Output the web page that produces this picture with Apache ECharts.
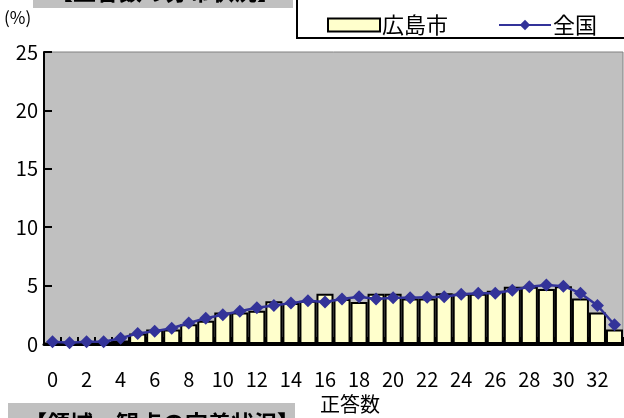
<!DOCTYPE html>
<html><head><meta charset="utf-8">
<script src="https://cdn.jsdelivr.net/npm/echarts@6/dist/echarts.min.js"></script>
<style>html,body{margin:0;padding:0;background:#fff}#c{width:624px;height:418px}</style>
</head><body><div id="c"></div>
<script>
const categories = ['0','1','2','3','4','5','6','7','8','9','10','11','12','13','14','15','16','17','18','19','20','21','22','23','24','25','26','27','28','29','30','31','32','33'];
const hiroshima = [0.1,0.1,0.1,0.2,0.3,0.9,1.25,1.25,1.7,2.0,2.7,2.7,2.85,3.65,3.5,3.7,4.3,3.85,3.6,4.3,4.3,3.9,3.9,4.35,4.3,4.3,4.55,4.9,4.9,4.7,4.95,3.9,2.7,1.25];
const national = [0.2,0.1,0.2,0.2,0.5,0.9,1.1,1.35,1.8,2.2,2.5,2.8,3.1,3.3,3.5,3.7,3.6,3.85,4.05,3.85,3.95,3.95,4.0,4.05,4.25,4.35,4.35,4.6,4.9,5.05,4.95,4.35,3.3,1.65];
const yTicks = [0,5,10,15,20,25];
const seriesNames = ['広島市','全国'];

const FONT = '"Noto Sans CJK JP", sans-serif';
const chart = echarts.init(document.getElementById('c'), null, {renderer:'canvas'});
chart.setOption({
  animation:false,
  textStyle:{fontFamily:FONT},
  grid:{left:44,right:1,top:52,bottom:74,show:true,backgroundColor:'#C0C0C0',borderColor:'#808080',borderWidth:1},
  legend:{
    left:322, top:9, itemWidth:52, itemHeight:13, itemGap:50,
    textStyle:{fontSize:22,color:'#000',fontFamily:FONT,padding:[0,0,0,-3]},
    data:[
      {name:seriesNames[0], icon:'rect'},
      {name:seriesNames[1]}
    ]
  },
  xAxis:{
    type:'category', data:categories,
    axisLine:{lineStyle:{color:'#000',width:3}},
    axisTick:{show:true,inside:true,length:7,interval:0,alignWithLabel:false,lineStyle:{color:'#000',width:2}},
    axisLabel:{interval:1,fontSize:20,color:'#000',margin:25,fontFamily:FONT},
    splitLine:{show:false}
  },
  yAxis:{
    type:'value', min:yTicks[0], max:yTicks[yTicks.length-1], interval:5,
    axisLine:{show:true,lineStyle:{color:'#000',width:2}},
    axisTick:{show:true,inside:true,length:8,lineStyle:{color:'#000',width:2}},
    axisLabel:{fontSize:20,color:'#000',margin:6,fontFamily:FONT},
    splitLine:{show:false}
  },
  graphic:[
    {type:'rect',z:-10,shape:{x:33,y:-2,width:260,height:10},style:{fill:'#C0C0C0'}},
    {type:'text',z:-9,left:50,top:-20,style:{text:'【正答数の分布状況】',font:'bold 23px '+FONT,fill:'#000'}},
    {type:'rect',z:-10,shape:{x:297,y:-5,width:340,height:43},style:{fill:'#fff',stroke:'#000',lineWidth:2}},
    {type:'text',left:4,top:9,style:{text:'(%)',font:'17px '+FONT,fill:'#000'}},
    {type:'text',left:320,top:394,style:{text:'正答数',font:'20px '+FONT,fill:'#000'}},
    {type:'rect',z:-10,shape:{x:8,y:403,width:287,height:20},style:{fill:'#C0C0C0'}},
    {type:'text',z:-9,left:24,top:412,style:{text:'【領域・観点の定着状況】',font:'bold 23px '+FONT,fill:'#000'}}
  ],
  series:[
    {name:seriesNames[0], type:'bar', data:hiroshima, barCategoryGap:'0%',
     itemStyle:{color:'#FFFFCC',borderColor:'#000',borderWidth:2}},
    {name:seriesNames[1], type:'line', data:national, symbol:'diamond', symbolSize:[13,13], showAllSymbol:true,
     lineStyle:{color:'#333399',width:2.5}, itemStyle:{color:'#333399'}}
  ]
});
</script></body></html>
